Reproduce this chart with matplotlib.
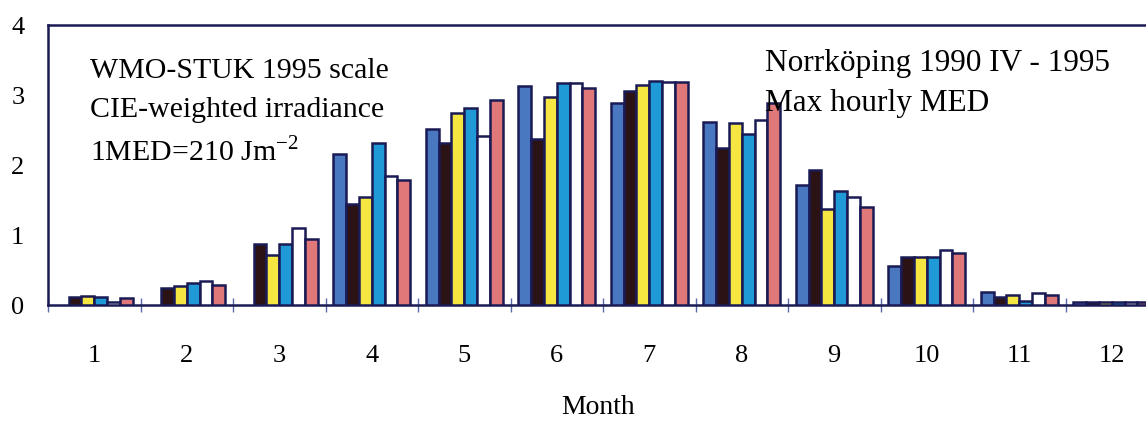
import numpy as np
import matplotlib
matplotlib.use("Agg")
import matplotlib.pyplot as plt

plt.rcParams['font.family'] = ['Liberation Serif', 'DejaVu Serif']
plt.rcParams['mathtext.fontset'] = 'custom'
plt.rcParams['mathtext.rm'] = 'Liberation Serif'

months = np.arange(1, 13)
month_labels = [str(m) for m in months]
years = ['1990', '1991', '1992', '1993', '1994', '1995']
nan = np.nan
y1990 = [nan, nan, nan, 2.16, 2.51, 3.13, 2.89, 2.62, 1.72, 0.56, 0.18, 0.04]
y1991 = [0.11, 0.24, 0.87, 1.45, 2.32, 2.37, 3.06, 2.25, 1.93, 0.68, 0.12, 0.04]
y1992 = [0.13, 0.27, 0.71, 1.54, 2.74, 2.97, 3.15, 2.60, 1.37, 0.68, 0.14, 0.05]
y1993 = [0.12, 0.31, 0.87, 2.32, 2.82, 3.17, 3.20, 2.45, 1.63, 0.68, 0.06, 0.05]
y1994 = [0.04, 0.34, 1.10, 1.85, 2.41, 3.17, 3.18, 2.65, 1.54, 0.78, 0.17, 0.04]
y1995 = [0.10, 0.28, 0.95, 1.78, 2.93, 3.10, 3.18, 2.88, 1.40, 0.74, 0.14, 0.04]
series = [y1990, y1991, y1992, y1993, y1994, y1995]
colors = ['#4a78c0', '#2b1214', '#f5e642', '#1f9ad6', '#ffffff', '#e0787a']
edge = '#1a1a55'

W, H = 1146, 421
fig = plt.figure(figsize=(W / 100, H / 100), dpi=100)
left_px, top_px, bottom_px = 48, 25, 305
ax = fig.add_axes([left_px / W, 1 - bottom_px / H, 1 - left_px / W, (bottom_px - top_px) / H])

w = 0.138
for i, (vals, c) in enumerate(zip(series, colors)):
    ax.bar(months + (i - 2.5) * w, vals, width=w, color=c, edgecolor=edge,
           linewidth=1.8, zorder=3)

ax.set_xlim(0.5, 0.5 + (W - left_px) / 92.5)
ax.set_ylim(0, 4)
ax.set_yticks([0, 1, 2, 3, 4])
ax.set_yticklabels(['0', '1', '2', '3', '4'])
ax.set_xticks(months)
ax.set_xticklabels(month_labels)
ax.set_xticks(np.arange(0.5, 12.5, 1.0), minor=True)
ax.tick_params(axis='x', which='major', length=0, pad=29, labelsize=19)
ax.tick_params(axis='x', which='minor', direction='inout', length=10, width=1.0, color='#5a6aa8')
ax.tick_params(axis='y', which='both', length=0, pad=17, labelsize=19)

for s in ['left', 'top', 'bottom']:
    ax.spines[s].set_color(edge)
    ax.spines[s].set_linewidth(1.8)
ax.spines['right'].set_visible(False)

fig.text(598 / W, 1 - 407 / H, 'Month', ha='center', va='center', fontsize=20)

fig.text(90 / W, 1 - 78 / H, 'WMO-STUK 1995 scale', fontsize=21.5, va='baseline')
fig.text(90 / W, 1 - 117.5 / H, 'CIE-weighted irradiance', fontsize=21.5, va='baseline')
fig.text(90 / W, 1 - 161.5 / H, r'1MED=210 Jm$^{\mathrm{-2}}$', fontsize=21.5, va='baseline')
fig.text(765 / W, 1 - 71.5 / H, 'Norrköping 1990 IV - 1995', fontsize=22.5, va='baseline')
fig.text(765 / W, 1 - 111.5 / H, 'Max hourly MED', fontsize=22.5, va='baseline')

fig.savefig('out.png', dpi=100)
